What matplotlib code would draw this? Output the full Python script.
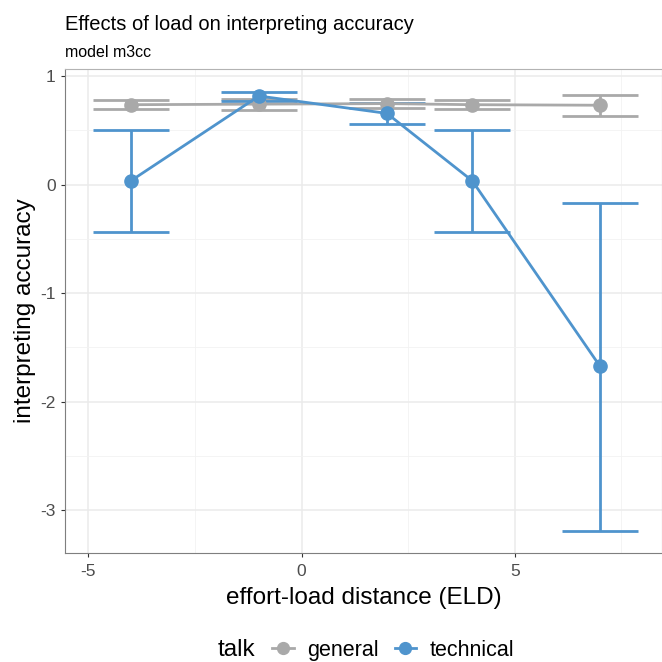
import matplotlib
matplotlib.use("Agg")
from matplotlib import pyplot as plt
from matplotlib.lines import Line2D
from matplotlib.ticker import MultipleLocator

plt.rcParams['font.family'] = ['Liberation Sans', 'DejaVu Sans']

eld = [-4, -1, 2, 4, 7]

general = [0.735, 0.74, 0.745, 0.735, 0.73]
general_lo = [0.695, 0.69, 0.70, 0.695, 0.635]
general_hi = [0.775, 0.785, 0.785, 0.775, 0.825]

technical = [0.035, 0.815, 0.655, 0.035, -1.675]
technical_lo = [-0.44, 0.77, 0.56, -0.44, -3.185]
technical_hi = [0.505, 0.855, 0.75, 0.505, -0.17]

grey = '#a9a9a9'
blue = '#4f94cd'

fig = plt.figure(figsize=(6.62, 6.62), dpi=100)
ax = fig.add_axes([0.098, 0.165, 0.902, 0.731])

for y, lo, hi, col in [(general, general_lo, general_hi, grey),
                       (technical, technical_lo, technical_hi, blue)]:
    yerr = [[v - l for v, l in zip(y, lo)], [h - v for v, h in zip(y, hi)]]
    ax.errorbar(eld, y, yerr=yerr, fmt='none', ecolor=col, elinewidth=2,
                capsize=27.5, capthick=2, zorder=3)
    ax.plot(eld, y, color=col, lw=2, marker='o', ms=9.5, zorder=4)

ax.set_xlim(-5.55, 8.45)
ax.set_ylim(-3.39, 1.065)
ax.xaxis.set_major_locator(MultipleLocator(5))
ax.xaxis.set_minor_locator(MultipleLocator(2.5))
ax.yaxis.set_major_locator(MultipleLocator(1))
ax.yaxis.set_minor_locator(MultipleLocator(0.5))
ax.grid(which='major', color='#ebebeb', lw=1.1, zorder=0)
ax.grid(which='minor', color='#f2f2f2', lw=0.6, zorder=0)
ax.set_axisbelow(True)

for side in ['top', 'right']:
    ax.spines[side].set_color('#b3b3b3')
for side in ['left', 'bottom']:
    ax.spines[side].set_color('#7f7f7f')
ax.tick_params(which='major', length=3, color='#333333', labelsize=12.5,
               labelcolor='#4d4d4d')
ax.tick_params(axis='x', pad=5)
ax.tick_params(which='minor', length=0)
ax.set_xticks([-5, 0, 5])
ax.set_xticklabels(['-5', '0', '5'])
ax.set_yticks([-3, -2, -1, 0, 1])
ax.set_yticklabels(['-3', '-2', '-1', '0', '1'])

ax.set_xlabel('effort-load distance (ELD)', fontsize=17.5, labelpad=6)
ax.set_ylabel('interpreting accuracy', fontsize=17.5, labelpad=3)

fig.text(0.098, 0.954, 'Effects of load on interpreting accuracy', fontsize=14.5,
         va='baseline')
fig.text(0.098, 0.914, 'model m3cc', fontsize=11.5, va='baseline')

# legend at the bottom: title on the same row as the keys
fig.text(0.328, 0.018, 'talk', fontsize=17.5, va='center', ha='left')
handles = [Line2D([], [], color=grey, lw=2, marker='o', ms=8.5),
           Line2D([], [], color=blue, lw=2, marker='o', ms=8.5)]
fig.legend(handles, ['general', 'technical'], ncol=2, loc='center left',
           bbox_to_anchor=(0.411, 0.018), frameon=False, fontsize=15.5,
           handlelength=1.02, handletextpad=0.6, columnspacing=0.74,
           borderpad=0, borderaxespad=0)

fig.savefig('out.png', dpi=100)
